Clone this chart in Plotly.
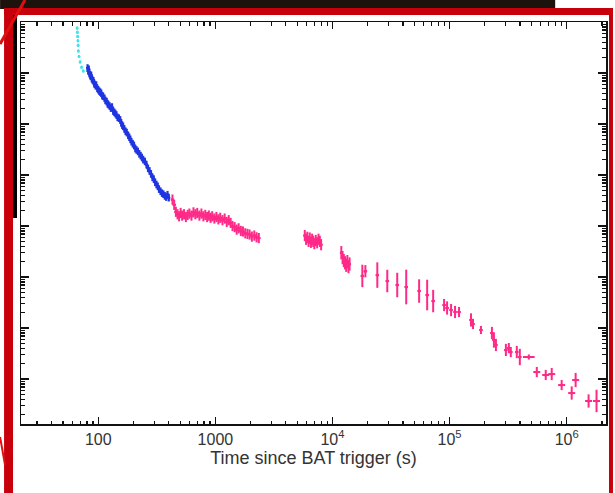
import numpy as np
import plotly.graph_objects as go

# ---------------- data (time since trigger [s], count rate) ----------------
cyan_t = [66, 66.3, 66.6, 67, 67.3, 67.6, 68.5, 70, 72, 74.5]
cyan_rate = [7600, 6300, 5200, 4300, 3500, 2700, 2100, 1650, 1300, 1100]
cyan_err_dex = [0.03] * len(cyan_t)

blue_t = [81, 82, 83, 84, 85, 86, 87, 88, 89, 91, 92, 93, 95, 96, 98, 100, 102,
          104, 106, 108, 110, 113, 115, 118, 120, 122, 125, 128, 131, 134, 137,
          140, 143, 146, 150, 154, 157, 160, 163, 167, 171, 175, 180, 184, 188,
          192, 197, 202, 207, 212, 218, 224, 230, 236, 242, 250, 258, 266, 274,
          282, 290, 298, 306, 314, 322, 330, 340, 350, 360, 370, 380, 390, 400]
blue_rate = [1250, 1100, 1180, 980, 920, 860, 900, 780, 740, 700, 640, 600, 560,
             580, 500, 470, 440, 420, 400, 360, 350, 320, 290, 275, 250, 240, 225,
             205, 215, 180, 170, 160, 150, 135, 130, 120, 105, 95, 90, 80, 72, 68,
             60, 55, 50, 45, 41, 38, 33, 31, 29, 26, 24, 22, 20, 18.5, 16, 13.5, 12,
             10.5, 9, 8.3, 7.2, 6.5, 6.0, 5.3, 4.8, 4.4, 4.2, 3.9, 3.7, 4.1, 3.6]
blue_err_dex = [0.075] * len(blue_t)

pink_t = [430, 445, 460, 475, 490, 505, 520, 540, 560, 580, 600, 625, 650, 675,
          700, 730, 760, 790, 820, 850, 880, 910, 940, 980, 1020, 1060, 1100, 1150,
          1200, 1250, 1300, 1350, 1400, 1460, 1520, 1580, 1650, 1720, 1800, 1880,
          1960, 2050, 2150, 2250, 2350,
          5800, 5950, 6100, 6250, 6400, 6550, 6700, 6850, 7000, 7200, 7400, 7600,
          7800, 8000,
          11900, 12200, 12500, 12800, 13100, 13400, 13700, 14000,
          17990, 19100, 24150, 29380, 35730, 42640, 54970, 64370, 72430, 89810,
          95250, 103000, 111400, 120500, 152400, 158500, 185400, 230000, 239300,
          248900, 302700, 320700, 333500, 375100, 398100, 475100, 555900, 662700,
          745500, 906300, 1104000, 1193000, 1539000, 1799000]
pink_rate = [3.3, 2.6, 1.9, 1.7, 1.55, 1.8, 1.6, 1.7, 1.5, 1.65, 1.75, 1.6, 1.85,
             1.7, 1.8, 1.6, 1.75, 1.55, 1.65, 1.5, 1.6, 1.45, 1.55, 1.4, 1.5, 1.35,
             1.45, 1.3, 1.4, 1.2, 1.3, 1.15, 1.0, 0.95, 0.85, 0.9, 0.8, 0.78, 0.72,
             0.7, 0.68, 0.62, 0.65, 0.6, 0.58,
             0.65, 0.55, 0.6, 0.5, 0.58, 0.48, 0.55, 0.5, 0.45, 0.52, 0.47, 0.55,
             0.5, 0.43,
             0.30, 0.24, 0.21, 0.19, 0.17, 0.2, 0.16, 0.18,
             0.105, 0.13, 0.109, 0.0835, 0.0697, 0.0637, 0.0531, 0.0444, 0.0338,
             0.0282, 0.0247, 0.0225, 0.0206, 0.0206, 0.0144, 0.0120, 0.00914,
             0.00798, 0.00582, 0.00465, 0.00371, 0.00405, 0.00338, 0.00338,
             0.00270, 0.00270, 0.00137, 0.00120, 0.00125, 0.000762, 0.000531,
             0.000955, 0.000371, 0.000371]
pink_err_dex = ([0.1] * 45 + [0.11] * 14 + [0.13] * 8 +
                [0.22, 0.12, 0.25, 0.22, 0.24, 0.34, 0.23, 0.30, 0.22, 0.12, 0.13,
                 0.12, 0.12, 0.10, 0.13, 0.10, 0.08, 0.12, 0.15, 0.12, 0.12, 0.10,
                 0.10, 0.12, 0.16, 0.05, 0.10, 0.10, 0.12, 0.10, 0.13, 0.14, 0.13,
                 0.22])
pink_xerr_dex = ([0.015] * 45 + [0.012] * 14 + [0.012] * 8 +
                 [0.015] * 25 + [0.05] + [0.03] * 8)

x_tickvals = [100, 1000, 1e4, 1e5, 1e6]
x_ticktext = ["100", "1000", "10<sup>4</sup>", "10<sup>5</sup>", "10<sup>6</sup>"]
x_title = "Time since BAT trigger (s)"

# ---------------- figure ----------------
W, H = 615, 493
L, R, T, B = 21, 7, 22, 69
PW, PH = W - L - R, H - T - B


def px(x):
    return (x - L) / PW


def py(y):
    return (H - B - y) / PH


def trace(t, r, edex, color, xdex=None, thick=2.0):
    t = np.asarray(t, float)
    r = np.asarray(r, float)
    e = np.asarray(edex, float)
    xd = np.full_like(t, 0.012) if xdex is None else np.asarray(xdex, float)
    return go.Scatter(
        x=t, y=r, mode="markers",
        marker=dict(size=3, color=color),
        error_y=dict(type="data", symmetric=False, array=r * (10 ** e - 1),
                     arrayminus=r * (1 - 10 ** -e), color=color, thickness=thick,
                     width=0),
        error_x=dict(type="data", symmetric=False, array=t * (10 ** xd - 1),
                     arrayminus=t * (1 - 10 ** -xd), color=color, thickness=thick,
                     width=0),
        showlegend=False, hoverinfo="skip")


fig = go.Figure()
fig.add_trace(trace(cyan_t, cyan_rate, cyan_err_dex, "#3fe3ea", [0.003] * len(cyan_t), 1.8))
fig.add_trace(trace(blue_t, blue_rate, blue_err_dex, "#1f35e0", None, 2.2))
fig.add_trace(trace(pink_t, pink_rate, pink_err_dex, "#ff2a88", pink_xerr_dex, 2.0))

x_minor = [m * 10 ** d for d in range(1, 7) for m in range(2, 10)]
y_minor = [m * 10.0 ** d for d in range(-5, 5) for m in range(2, 10)]
y_major = [10.0 ** d for d in range(-4, 5)]

axis_common = dict(type="log", showgrid=False, zeroline=False, showline=True,
                   linecolor="#111", linewidth=1.5, mirror="ticks",
                   ticks="inside", tickcolor="#111", tickwidth=1.3)

fig.update_xaxes(**axis_common, range=[1.340, 6.336], tickmode="array",
                 tickvals=x_tickvals, ticktext=x_ticktext, ticklen=7,
                 tickfont=dict(family="Liberation Sans, Arial", size=16, color="#333"),
                 title=dict(text=x_title, standoff=4,
                            font=dict(family="Liberation Sans, Arial", size=18, color="#333")),
                 minor=dict(tickmode="array", tickvals=x_minor, ticks="inside",
                            ticklen=3.5, tickcolor="#111", tickwidth=1.2))
fig.update_yaxes(**axis_common, range=[-3.882, 4.0], tickmode="array",
                 tickvals=y_major, ticklen=8, showticklabels=False,
                 minor=dict(tickmode="array", tickvals=y_minor, ticks="inside",
                            ticklen=4, tickcolor="#111", tickwidth=1.2))

red = "#c8000c"
shapes = [
    # dark photo background at top
    dict(type="rect", x0=px(0), x1=px(557), y0=py(0), y1=py(9),
         fillcolor="#1c130d", line_width=0),
    # red slide border
    dict(type="rect", x0=px(4), x1=px(615), y0=py(8), y1=py(15),
         fillcolor=red, line_width=0),
    dict(type="rect", x0=px(4), x1=px(13), y0=py(8), y1=py(493),
         fillcolor=red, line_width=0),
    dict(type="rect", x0=px(611), x1=px(615), y0=py(8), y1=py(493),
         fillcolor=red, line_width=0),
    # black strip inside left border
    dict(type="rect", x0=px(13), x1=px(17), y0=py(15), y1=py(218),
         fillcolor="#000", line_width=0),
    # decorative red strokes
    dict(type="line", x0=px(0), x1=px(25), y0=py(44), y1=py(0),
         line=dict(color="#e01010", width=3)),
    dict(type="line", x0=px(0), x1=px(5), y0=py(437), y1=py(465),
         line=dict(color="#e01010", width=2)),
]
for s in shapes:
    s.update(xref="paper", yref="paper", layer="above")

fig.update_layout(width=W, height=H, margin=dict(l=L, r=R, t=T, b=B),
                  paper_bgcolor="white", plot_bgcolor="white", shapes=shapes)

fig.write_html(
    "out.html",
    config={"displayModeBar": False, "staticPlot": True},
    post_script="document.body.style.margin='0';"
                "document.body.style.overflow='hidden';")
